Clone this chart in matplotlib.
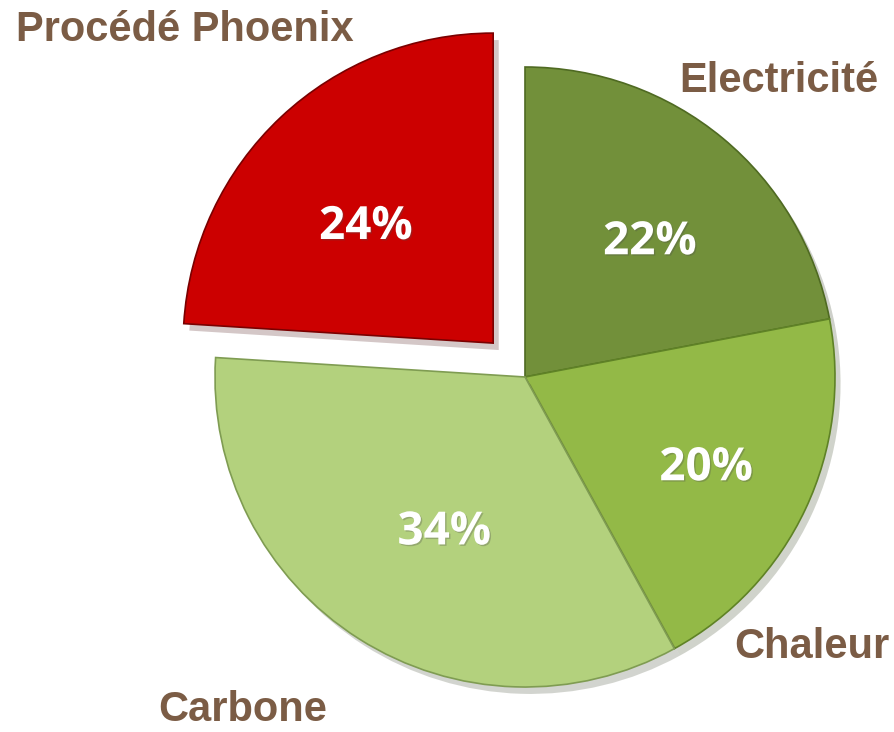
import numpy as np
import matplotlib.pyplot as plt
import matplotlib.patheffects as pe

# Data
labels = ["Electricité", "Chaleur", "Carbone", "Procédé Phoenix"]
shares = [22, 20, 34, 24]
colors = ["#72903a", "#93b947", "#b3d17d", "#cc0000"]
edge_colors = ["#4f6a22", "#5f8226", "#7f9c52", "#7a0000"]
explode = [0, 0, 0, 0.15]

# percent label placement: distance (fraction of radius) and angle tweak (deg)
pct_dist = [0.607, 0.646, 0.548, 0.569]
pct_shift = [-2, 0, 4, 3]

W, H = 895, 732
fig = plt.figure(figsize=(W / 100, H / 100), dpi=100)
ax = fig.add_axes([0, 0, 1, 1])

cx, cy, r = 525, H - 377, 310

wedges, texts, autotexts = ax.pie(
    shares, colors=colors, explode=[e * r for e in explode], startangle=90,
    counterclock=False, center=(cx, cy), radius=r, autopct="%d%%",
    textprops=dict(color="white", fontsize=33, fontweight="bold", family="Open Sans"),
    wedgeprops=dict(linewidth=1.2),
    frame=True,
)
ax.set_xlim(0, W)
ax.set_ylim(0, H)
ax.set_aspect("equal")
ax.axis("off")

for w, ec in zip(wedges, edge_colors):
    w.set_edgecolor(ec)
    w.set_path_effects([pe.SimplePatchShadow(offset=(4, -5), alpha=0.22), pe.Normal()])

# Percent labels placed along each wedge's middle angle
for w, t, d, s in zip(wedges, autotexts, pct_dist, pct_shift):
    mid = np.deg2rad((w.theta1 + w.theta2) / 2 + s)
    x0, y0 = w.center
    t.set_position((x0 + d * r * np.cos(mid), y0 + d * r * np.sin(mid)))
    t.set_va("center_baseline")
    t.set_path_effects([pe.withSimplePatchShadow(offset=(1, -1), alpha=0.3)])

# Category labels (baseline positions)
label_pos = {
    "Procédé Phoenix": (185, H - 41),
    "Electricité": (779, H - 92),
    "Chaleur": (812, H - 658),
    "Carbone": (243, H - 721),
}
for name in labels:
    x, y = label_pos[name]
    ax.text(x, y, name, ha="center", va="baseline", fontsize=30, fontweight="bold",
            color="#7b5c45", family="Liberation Sans")

fig.savefig("out.png", dpi=100)
